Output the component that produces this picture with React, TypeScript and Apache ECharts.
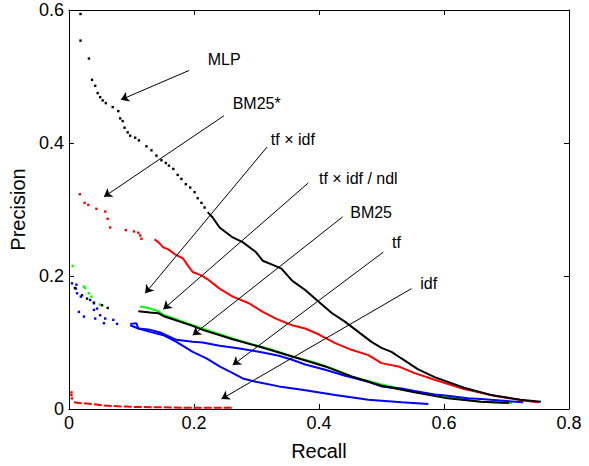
import React, { useEffect, useRef } from "react";
import * as echarts from "echarts";

const FONT = "'Liberation Sans', Arial, Helvetica, sans-serif";

// Axis ticks
const xTicks = [0, 0.2, 0.4, 0.6, 0.8];
const yTicks = [0, 0.2, 0.4, 0.6];

// MLP (black)
const mlpDots = [[0.0185,0.594],[0.0185,0.554],[0.032,0.527],[0.037,0.495],[0.042,0.486],[0.046,0.475],[0.050,0.469],[0.054,0.464],[0.059,0.460],[0.070,0.454],[0.079,0.448],[0.082,0.437],[0.086,0.433],[0.089,0.423],[0.094,0.416],[0.098,0.411],[0.106,0.408],[0.112,0.404],[0.124,0.395],[0.132,0.389],[0.140,0.381],[0.148,0.374],[0.155,0.370],[0.160,0.366],[0.167,0.361],[0.174,0.352],[0.180,0.346],[0.187,0.338],[0.194,0.333],[0.201,0.326],[0.206,0.317],[0.212,0.310],[0.217,0.303]];
const mlpLine = [[0.222,0.296],[0.230,0.288],[0.241,0.273],[0.262,0.258],[0.278,0.251],[0.299,0.236],[0.310,0.223],[0.328,0.216],[0.340,0.211],[0.357,0.193],[0.378,0.179],[0.400,0.161],[0.421,0.144],[0.442,0.131],[0.463,0.116],[0.484,0.101],[0.500,0.092],[0.516,0.086],[0.532,0.076],[0.558,0.060],[0.585,0.048],[0.632,0.032],[0.675,0.021],[0.722,0.014],[0.755,0.011]];

// BM25* (red)
const bm25StarDots = [[0.0175,0.323],[0.025,0.310],[0.031,0.307],[0.044,0.301],[0.058,0.297],[0.062,0.286],[0.066,0.273],[0.091,0.269],[0.104,0.267],[0.111,0.265],[0.114,0.261],[0.116,0.256]];
const bm25StarLine = [[0.137,0.255],[0.143,0.251],[0.151,0.243],[0.159,0.240],[0.169,0.233],[0.183,0.226],[0.190,0.216],[0.198,0.206],[0.212,0.201],[0.222,0.195],[0.241,0.181],[0.262,0.169],[0.288,0.159],[0.310,0.146],[0.331,0.136],[0.357,0.126],[0.378,0.121],[0.400,0.112],[0.426,0.099],[0.452,0.089],[0.479,0.081],[0.500,0.069],[0.527,0.064],[0.553,0.054],[0.585,0.044],[0.632,0.030],[0.685,0.019],[0.733,0.012],[0.751,0.010]];

// tf x idf (green)
const tfidfDots = [[0.006,0.215],[0.024,0.184],[0.026,0.182],[0.032,0.174],[0.036,0.169],[0.050,0.157]];
const tfidfLine = [[0.114,0.154],[0.127,0.152],[0.143,0.147],[0.153,0.141],[0.198,0.126],[0.230,0.116],[0.262,0.106],[0.294,0.097],[0.325,0.089],[0.357,0.079],[0.389,0.071],[0.421,0.061],[0.452,0.049],[0.500,0.037],[0.553,0.026],[0.606,0.018],[0.659,0.011],[0.709,0.009]];

// tf x idf / ndl (black)
const ndlDots = [[0.0095,0.182],[0.021,0.171],[0.029,0.166],[0.040,0.160],[0.053,0.156],[0.062,0.152]];
const ndlLine = [[0.111,0.147],[0.130,0.145],[0.143,0.144],[0.153,0.139],[0.198,0.125],[0.214,0.119],[0.262,0.105],[0.304,0.094],[0.336,0.085],[0.368,0.076],[0.410,0.064],[0.452,0.049],[0.500,0.035],[0.553,0.025],[0.606,0.016],[0.659,0.011],[0.704,0.009]];

// BM25 (blue, upper)
const bm25Dots = [[0.005,0.189],[0.012,0.187],[0.011,0.181],[0.013,0.174],[0.019,0.169],[0.034,0.164],[0.040,0.159],[0.045,0.151]];
const bm25Line = [[0.098,0.128],[0.108,0.129],[0.111,0.121],[0.130,0.119],[0.146,0.115],[0.172,0.104],[0.198,0.101],[0.214,0.100],[0.241,0.095],[0.273,0.091],[0.304,0.086],[0.336,0.080],[0.357,0.074],[0.378,0.067],[0.410,0.059],[0.442,0.050],[0.479,0.041],[0.500,0.034],[0.532,0.031],[0.553,0.027],[0.585,0.022],[0.606,0.020],[0.638,0.016],[0.659,0.015],[0.727,0.010]];

// tf (blue, lower)
const tfDots = [[0.016,0.146],[0.024,0.139],[0.040,0.149],[0.042,0.136],[0.050,0.141],[0.056,0.129],[0.058,0.136],[0.071,0.134],[0.077,0.128]];
const tfLine = [[0.098,0.126],[0.111,0.121],[0.130,0.116],[0.151,0.111],[0.172,0.101],[0.198,0.086],[0.220,0.076],[0.241,0.064],[0.262,0.054],[0.278,0.046],[0.299,0.041],[0.336,0.034],[0.373,0.029],[0.426,0.021],[0.479,0.014],[0.532,0.010],[0.575,0.0075]];

// idf (red, bottom)
const idfDots = [[0.004,0.025],[0.004,0.021],[0.005,0.016]];
const idfLine = [[0.008,0.010],[0.016,0.009],[0.032,0.008],[0.053,0.0055],[0.079,0.004],[0.106,0.003],[0.148,0.0025],[0.185,0.002],[0.222,0.002],[0.262,0.002]];

// Annotations
const annotationLabels = ["MLP", "BM25*", "tf \u00d7 idf", "tf \u00d7 idf / ndl", "BM25", "tf", "idf"];
const labelAnchors = [[0.222,0.525],[0.262,0.459],[0.323,0.406],[0.400,0.347],[0.450,0.296],[0.517,0.250],[0.562,0.189]];
const arrowFrom = [[0.192,0.509],[0.248,0.441],[0.317,0.394],[0.383,0.340],[0.438,0.289],[0.503,0.236],[0.548,0.181]];
const arrowTo = [[0.083,0.465],[0.056,0.319],[0.122,0.174],[0.151,0.150],[0.198,0.111],[0.262,0.066],[0.244,0.015]];

const curves = [
  { dots: tfidfDots, line: tfidfLine, color: "#00ff00" },
  { dots: tfDots, line: tfLine, color: "#0000ff" },
  { dots: bm25Dots, line: bm25Line, color: "#0000ff" },
  { dots: idfDots, line: idfLine, color: "#ff0000", dashed: true },
  { dots: bm25StarDots, line: bm25StarLine, color: "#ff0000" },
  { dots: ndlDots, line: ndlLine, color: "#000000" },
  { dots: mlpDots, line: mlpLine, color: "#000000" },
];

function makeAxis(kind: "x" | "y", main: boolean, pos: string) {
  const isX = kind === "x";
  const ticks = isX ? xTicks : yTicks;
  return {
    type: "value",
    position: pos,
    min: ticks[0],
    max: ticks[ticks.length - 1],
    interval: ticks[1] - ticks[0],
    name: main ? (isX ? "Recall" : "Precision") : "",
    nameLocation: "middle",
    nameGap: isX ? 32 : 38,
    nameTextStyle: { fontSize: 20, color: "#000", fontFamily: FONT },
    axisLine: { show: true, onZero: false, lineStyle: { color: "#000", width: 1 } },
    axisTick: { show: true, inside: true, length: 5, lineStyle: { color: "#000", width: 1 } },
    axisLabel: { show: main, fontSize: 18, color: "#000", fontFamily: FONT, margin: isX ? 5 : 5 },
    splitLine: { show: false },
  };
}

export default function App() {
  const ref = useRef<HTMLDivElement>(null);
  useEffect(() => {
    const chart = echarts.init(ref.current!, null, { renderer: "svg" });
    const series: any[] = [];
    curves.forEach((c) => {
      series.push({
        type: "scatter",
        data: c.dots,
        symbol: "rect",
        symbolSize: 2.4,
        itemStyle: { color: c.color, opacity: 1 },
        silent: true,
      });
      series.push({
        type: "line",
        data: c.line,
        showSymbol: false,
        symbol: "none",
        lineStyle: { color: c.color, width: 2, type: c.dashed ? [8, 2] : "solid" },
        silent: true,
      });
    });
    series.push({
      type: "lines",
      coordinateSystem: "cartesian2d",
      symbol: ["none", "arrow"],
      symbolSize: 8,
      lineStyle: { color: "#000", width: 1, opacity: 1 },
      data: arrowFrom.map((f, i) => ({ coords: [f, arrowTo[i]] })),
      silent: true,
      z: 5,
    });
    series.push({
      type: "scatter",
      symbolSize: 0,
      itemStyle: { opacity: 1 },
      data: annotationLabels.map((name, i) => ({ name, value: labelAnchors[i] })),
      label: {
        show: true,
        position: "right",
        distance: 0,
        formatter: "{b}",
        color: "#000",
        opacity: 1,
        fontSize: 16,
        fontFamily: FONT,
      },
      silent: true,
      z: 6,
    });
    chart.setOption({
      animation: false,
      backgroundColor: "#fff",
      grid: { left: 65, right: 20, top: 10, bottom: 55, containLabel: false },
      xAxis: [makeAxis("x", true, "bottom"), makeAxis("x", false, "top")],
      yAxis: [makeAxis("y", true, "left"), makeAxis("y", false, "right")],
      series,
    });
    return () => chart.dispose();
  }, []);
  return (
    <div
      ref={ref}
      style={{ position: "fixed", left: 0, top: 0, width: 589, height: 466, background: "#fff" }}
    />
  );
}
